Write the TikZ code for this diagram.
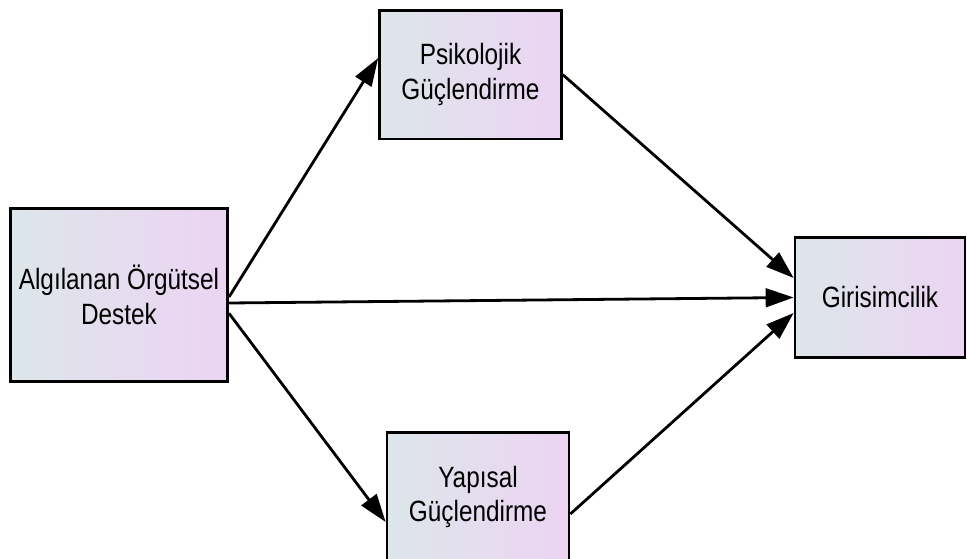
\documentclass[tikz,border=0pt]{standalone}
\usepackage{fontspec}
\setmainfont{Liberation Sans}[FakeStretch=0.83]
\usetikzlibrary{arrows.meta}
\definecolor{boxleft}{RGB}{221,230,234}
\definecolor{boxright}{RGB}{236,212,243}
\begin{document}
\begin{tikzpicture}[x=0.75pt,y=0.75pt,
        kutu/.style={draw=black, line width=2pt, left color=boxleft, right color=boxright,
            align=center, inner sep=0pt, text=black, font=\fontsize{22}{26}\selectfont},
        ok/.style={-{Triangle[length=21pt,width=14pt]}, line width=2.1pt}]
            \clip (0,0) rectangle (967,558);
            \node [kutu, minimum width=163pt, minimum height=130pt] (algi) at (119,263) {Algılanan Örgütsel\\Destek};
            \node [kutu, minimum width=136.5pt, minimum height=96.5pt] (psik) at (470.5,483.3) {Psikolojik\\Güçlendirme};
            \node [kutu, minimum width=136.5pt, minimum height=96.5pt] (yapi) at (478,61) {Yapısal\\Güçlendirme};
            \node [kutu, minimum width=127.5pt, minimum height=90pt] (giri) at (880,260.5) {Girisimcilik};
            \draw [ok] ([yshift=-1.5pt]algi.east) -- ([yshift=12.5pt]psik.west);
            \draw [ok] ([yshift=-6pt]algi.east) -- (giri.west);
            \draw [ok] ([yshift=-13.7pt]algi.east) -- ([yshift=-18.75pt]yapi.west);
            \draw [ok] (psik.east) -- ([yshift=14.6pt]giri.west);
            \draw [ok] ([yshift=-12.75pt]yapi.east) -- ([yshift=-11.6pt]giri.west);
\end{tikzpicture}
\end{document}
